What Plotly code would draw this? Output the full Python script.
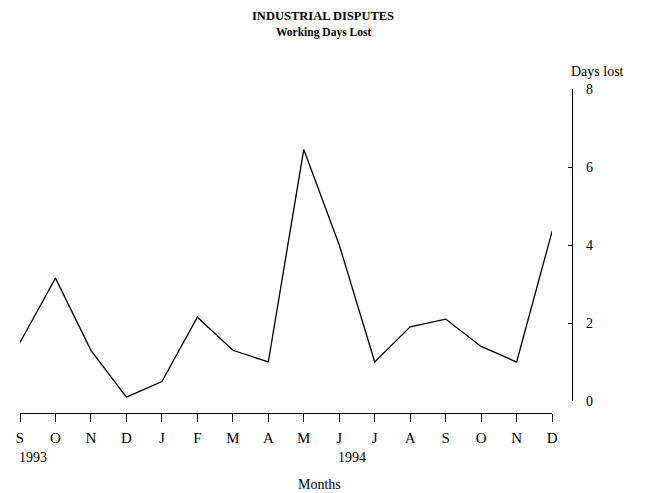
import plotly.graph_objects as go

months = ["S", "O", "N", "D", "J", "F", "M", "A", "M", "J", "J", "A", "S", "O", "N", "D"]
days_lost = [1.5, 3.15, 1.3, 0.1, 0.5, 2.15, 1.3, 1.0, 6.45, 4.0, 1.0, 1.9, 2.1, 1.4, 1.0, 4.35]
year_labels = ["1993", "1994"]
year_pos = [0, 9]
y_ticks = [0, 2, 4, 6, 8]

serif = "Liberation Serif, Times New Roman, serif"

fig = go.Figure()
fig.add_trace(go.Scatter(
    x=list(range(len(months))), y=days_lost, mode="lines",
    line=dict(color="black", width=1.3), showlegend=False, hoverinfo="skip"))

# page has an 8px body margin, so the figure is a bit smaller than the window
fig.update_layout(
    width=639, height=485,
    margin=dict(l=8, r=71, t=77, b=80),
    paper_bgcolor="white", plot_bgcolor="white",
    font=dict(family=serif, color="black", size=15),
    xaxis=dict(
        domain=[0, 0.957], range=[0, 15], anchor="free", position=0,
        tickmode="array", tickvals=list(range(len(months))), ticktext=months,
        showline=True, linecolor="black", linewidth=1.2,
        ticks="outside", ticklen=8, tickcolor="black", tickwidth=1.2,
        ticklabelstandoff=3,
        showgrid=False, zeroline=False, tickfont=dict(size=15)),
    yaxis=dict(
        domain=[0.0366, 0.9878], range=[0, 8], anchor="free", position=0.9929,
        side="right", tickvals=y_ticks,
        showline=True, linecolor="black", linewidth=1.2,
        ticks="inside", ticklen=4, tickcolor="black", tickwidth=1.2,
        ticklabelstandoff=10,
        showgrid=False, zeroline=False, tickfont=dict(size=14)),
)

# positions given in page pixels, converted to paper fractions
annotations = [
    dict(text="<b>INDUSTRIAL DISPUTES</b>", x=321, y=7, font=dict(size=12.5)),
    dict(text="<b>Working Days Lost</b>", x=322, y=24, font=dict(size=11.5)),
    dict(text="Days lost", x=598, y=62, font=dict(size=14)),
    dict(text="Months", x=318, y=475, font=dict(size=14)),
]
for a in annotations:
    fig.add_annotation(
        text=a["text"], xref="paper", yref="paper",
        x=(a["x"] - 16) / 560, y=(413 - a["y"]) / 328,
        xanchor="center", yanchor="top", showarrow=False, font=a["font"])

for lbl, pos in zip(year_labels, year_pos):
    fig.add_annotation(
        text=lbl, x=pos, xref="x", y=0, yref="paper",
        xanchor="left", yanchor="top", yshift=-35, xshift=-3,
        showarrow=False, font=dict(size=14))

fig.write_html("out.html")
